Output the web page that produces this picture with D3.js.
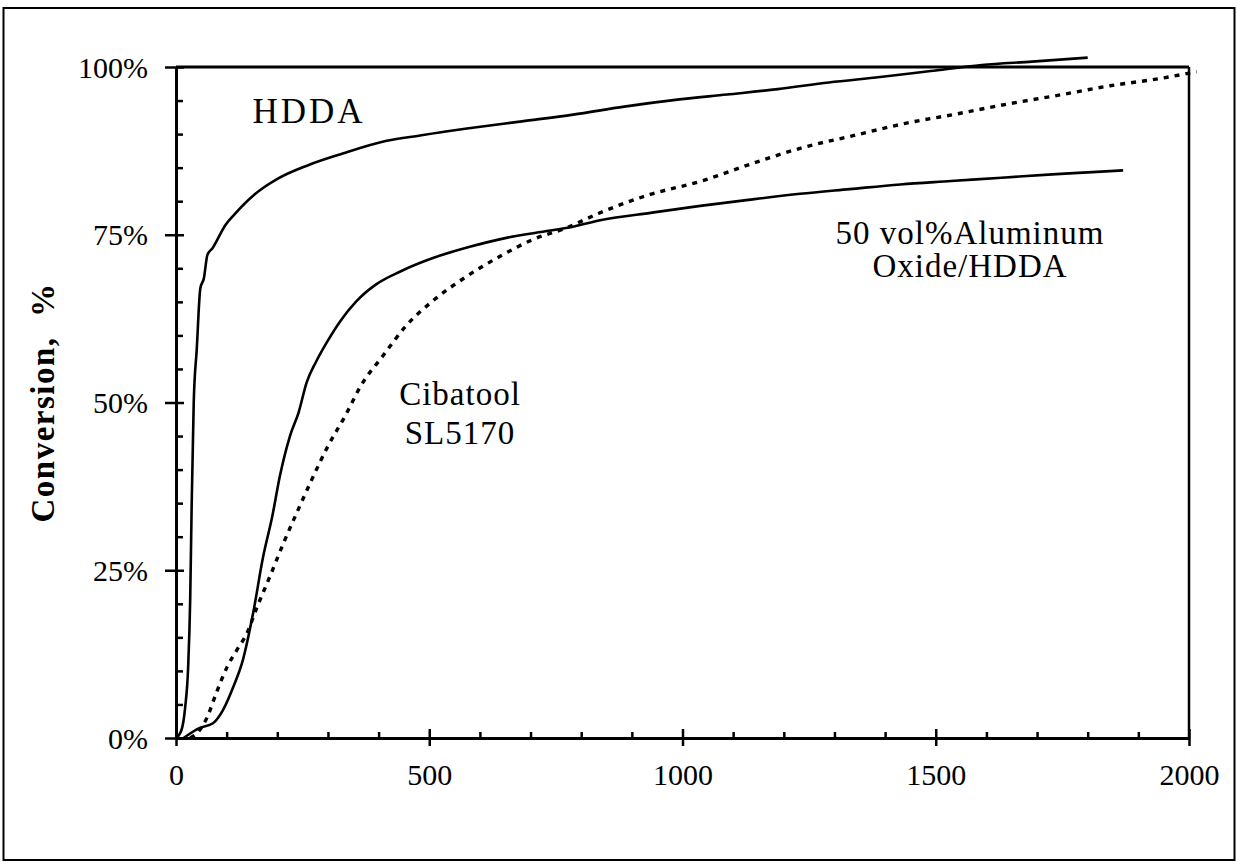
<!DOCTYPE html>
<html>
<head>
<meta charset="utf-8">
<script src="https://cdn.jsdelivr.net/npm/d3@7"></script>
<style>
  html, body { margin: 0; padding: 0; background: #fff; }
  svg { display: block; }
  text { font-family: 'Liberation Serif', 'DejaVu Serif', serif; fill: #000; }
</style>
</head>
<body>
<div id="chart"></div>
<script>
// Conversion vs time, three resins

// time values (x) and conversion % (y) for each curve
const hddaTime = [0, 10, 18, 24, 28, 31, 35, 41, 48, 55, 62, 72, 98, 115, 155, 202, 262, 329, 416, 482, 543, 582, 683, 784, 885, 986, 1088, 1188, 1289, 1390, 1490, 1591, 1690, 1800];
const hddaConv = [0, 1, 4.5, 10.6, 20.6, 35, 50, 58, 67, 68.5, 72, 73, 76.5, 78, 81, 83.4, 85.4, 87.1, 89, 89.8, 90.5, 90.9, 91.9, 92.9, 94.1, 95.1, 95.9, 96.7, 97.7, 98.5, 99.4, 100.3, 100.8, 101.4];

const aluminaTime = [15, 47, 73, 93, 113, 132, 152, 172, 190, 205, 225, 242, 258, 276, 298, 325, 355, 395, 445, 510, 580, 650, 720, 784, 840, 940, 1035, 1130, 1232, 1330, 1430, 1530, 1630, 1730, 1800, 1870];
const aluminaConv = [0, 1.5, 2.2, 4.2, 7.6, 11.6, 18.5, 27, 33, 39, 45, 48.5, 53, 56, 59, 62.2, 65, 67.6, 69.6, 71.6, 73.2, 74.5, 75.4, 76.2, 77.2, 78.3, 79.3, 80.2, 81.1, 81.8, 82.5, 83, 83.5, 84, 84.3, 84.6];

const cibaTime = [28, 45, 61, 81, 101, 120, 140, 160, 185, 212, 241, 268, 300, 334, 365, 409, 455, 508, 574, 640, 705, 770, 835, 936, 1037, 1137, 1238, 1339, 1440, 1541, 1643, 1743, 1844, 1944, 2015];
const cibaConv = [0, 1, 3, 7, 10.6, 13.1, 15.6, 19.5, 24, 29, 34, 38.5, 43.5, 48, 52.5, 57, 61.5, 65.2, 68.8, 71.8, 74.3, 76, 78.2, 81, 83, 85.6, 88, 89.8, 91.6, 93, 94.5, 95.8, 97.2, 98.3, 99.3];

const xMajorTicks = [0, 500, 1000, 1500, 2000];
const xMinorTicks = [100, 200, 300, 400, 600, 700, 800, 900, 1100, 1200, 1300, 1400, 1600, 1700, 1800, 1900];
const yMajorTicks = [0, 25, 50, 75, 100];
const yMinorTicks = [5, 10, 15, 20, 30, 35, 40, 45, 55, 60, 65, 70, 80, 85, 90, 95];

const W = 1237, H = 865;
const plot = { left: 176, right: 1189, top: 67, bottom: 738 };

const svg = d3.select('#chart')
  .append('svg')
  .attr('width', W)
  .attr('height', H);

// outer frame of the figure
svg.append('rect')
  .attr('x', 3.5)
  .attr('y', 8)
  .attr('width', 1231)
  .attr('height', 852)
  .attr('fill', 'none')
  .attr('stroke', '#000')
  .attr('stroke-width', 2);

const x = d3.scaleLinear().domain([0, 2000]).range([plot.left, plot.right]);
const y = d3.scaleLinear().domain([0, 100]).range([plot.bottom, plot.top]);

// top and right frame lines of plot area
svg.append('line')
  .attr('x1', x(0)).attr('x2', x(2000))
  .attr('y1', y(100)).attr('y2', y(100))
  .attr('stroke', '#000').attr('stroke-width', 3);
svg.append('line')
  .attr('x1', x(2000)).attr('x2', x(2000))
  .attr('y1', y(100)).attr('y2', y(0))
  .attr('stroke', '#000').attr('stroke-width', 2.5);

// Y axis: labels + outward major ticks
const yAxis = svg.append('g')
  .attr('transform', `translate(${plot.left},0)`)
  .call(d3.axisLeft(y).tickValues(yMajorTicks).tickSize(11).tickSizeOuter(0).tickPadding(17)
    .tickFormat(d => d + '%'));
// inward part of major ticks and minor ticks
svg.append('g')
  .attr('transform', `translate(${plot.left},0)`)
  .call(d3.axisRight(y).tickValues(yMajorTicks).tickSize(8).tickSizeOuter(0).tickFormat(''));
svg.append('g')
  .attr('transform', `translate(${plot.left},0)`)
  .call(d3.axisRight(y).tickValues(yMinorTicks).tickSize(7).tickSizeOuter(0).tickFormat(''));

// X axis
const xAxis = svg.append('g')
  .attr('transform', `translate(0,${plot.bottom})`)
  .call(d3.axisBottom(x).tickValues(xMajorTicks).tickSize(8).tickSizeOuter(0).tickPadding(18)
    .tickFormat(d3.format('d')));
svg.append('g')
  .attr('transform', `translate(0,${plot.bottom})`)
  .call(d3.axisTop(x).tickValues(xMajorTicks).tickSize(9).tickSizeOuter(0).tickFormat(''));
svg.append('g')
  .attr('transform', `translate(0,${plot.bottom})`)
  .call(d3.axisTop(x).tickValues(xMinorTicks).tickSize(6).tickSizeOuter(0).tickFormat(''));

svg.selectAll('.domain').attr('stroke', '#000').attr('stroke-width', 3);
svg.selectAll('.tick line').attr('stroke', '#000').attr('stroke-width', 2.5);
svg.selectAll('.tick text')
  .attr('font-family', "'Liberation Serif', serif")
  .attr('font-size', 30)
  .attr('fill', '#000');
yAxis.selectAll('.tick text').attr('dy', '0.34em');

// Y axis title
svg.append('text')
  .attr('transform', `translate(54,${(plot.top + plot.bottom) / 2}) rotate(-90)`)
  .attr('text-anchor', 'middle')
  .attr('font-size', 33)
  .attr('font-weight', 'bold')
  .attr('letter-spacing', 1.5)
  .style('white-space', 'pre')
  .text('Conversion,  %');

// curves
const toPoints = (ts, cs) => ts.map((t, i) => [t, cs[i]]);
const line = d3.line()
  .x(d => x(d[0]))
  .y(d => y(d[1]))
  .curve(d3.curveMonotoneX);

svg.append('path')
  .datum(toPoints(hddaTime, hddaConv))
  .attr('d', line)
  .attr('fill', 'none')
  .attr('stroke', '#000')
  .attr('stroke-width', 2.6)
  .attr('stroke-linejoin', 'round');

svg.append('path')
  .datum(toPoints(aluminaTime, aluminaConv))
  .attr('d', line)
  .attr('fill', 'none')
  .attr('stroke', '#000')
  .attr('stroke-width', 2.6)
  .attr('stroke-linejoin', 'round');

svg.append('path')
  .datum(toPoints(cibaTime, cibaConv))
  .attr('d', line)
  .attr('fill', 'none')
  .attr('stroke', '#000')
  .attr('stroke-width', 3.4)
  .attr('stroke-dasharray', '5,6');

// curve labels
const addLabel = (lines, cx, baseline, gap, size, spacing) => {
  lines.forEach((s, i) => {
    svg.append('text')
      .attr('x', cx)
      .attr('y', baseline + i * gap)
      .attr('text-anchor', 'middle')
      .attr('font-size', size)
      .attr('letter-spacing', spacing)
      .text(s);
  });
};
addLabel(['HDDA'], 309, 123, 0, 35, 3);
addLabel(['Cibatool', 'SL5170'], 460, 405, 39, 33, 1);
addLabel(['50 vol%Aluminum', 'Oxide/HDDA'], 970, 244, 33, 33, 1);
</script>
</body>
</html>
